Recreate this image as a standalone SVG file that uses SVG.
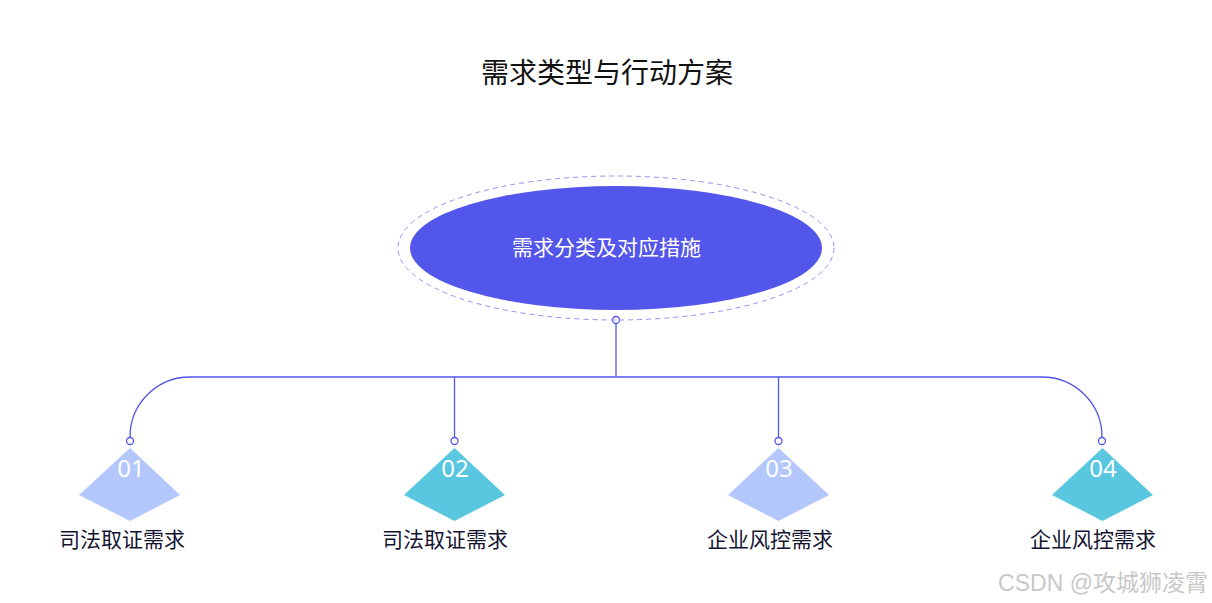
<svg xmlns="http://www.w3.org/2000/svg" width="1212" height="603" viewBox="0 0 1212 603">
<style>
.cn{font-family:"Noto Sans CJK SC","Noto Sans",sans-serif}
.title{font-size:28px;fill:#111111;text-anchor:middle}
.hub{font-size:21px;fill:#ffffff}
.lbl{font-size:21px;fill:#141432;text-anchor:middle}
.num{font-size:24px;fill:#ffffff;text-anchor:middle;font-family:"Noto Sans","Open Sans",sans-serif}
.wire{fill:none;stroke:#5356EA;stroke-width:1.3}
.dot{fill:#ffffff;stroke:#5356EA;stroke-width:1.3}
.light{fill:#B3C7FD}
.teal{fill:#58C7DF}
</style>
<rect width="1212" height="603" fill="#ffffff"/>
<text class="cn title" x="607" y="83">需求类型与行动方案</text>

<g id="connectors">
<line class="wire" x1="616" y1="323.5" x2="616" y2="377"/>
<path class="wire" d="M190 377 H1042"/>
<path class="wire" d="M190 377 A60 60 0 0 0 130 437"/>
<path class="wire" d="M1042 377 A60 60 0 0 1 1102 437"/>
<line class="wire" x1="454.5" y1="377" x2="454.5" y2="437"/>
<line class="wire" x1="778.5" y1="377" x2="778.5" y2="437"/>
<circle class="dot" cx="616" cy="320" r="3.5"/>
<circle class="dot" cx="130" cy="441" r="3.5"/>
<circle class="dot" cx="454.5" cy="441" r="3.5"/>
<circle class="dot" cx="778.5" cy="441" r="3.5"/>
<circle class="dot" cx="1102" cy="441" r="3.5"/>
</g>

<g id="hub">
<ellipse cx="616" cy="248" rx="218" ry="72" fill="none" stroke="#8f92f2" stroke-width="1" stroke-dasharray="5 4"/>
<ellipse cx="616" cy="248" rx="206" ry="62" fill="#5356EA"/>
<text class="cn hub" x="606.5" y="255" text-anchor="middle">需求分类及对应措施</text>
</g>

<g id="node1">
<polygon class="light" points="130,448 180,495 130,521 79,495"/>
<text class="num" x="131" y="477">01</text>
<text class="cn lbl" x="122" y="547">司法取证需求</text>
</g>
<g id="node2">
<polygon class="teal" points="454.5,448 505,495 454.5,521 404,495"/>
<text class="num" x="455" y="477">02</text>
<text class="cn lbl" x="445" y="547">司法取证需求</text>
</g>
<g id="node3">
<polygon class="light" points="778.5,448 829,495 778.5,521 728,495"/>
<text class="num" x="779" y="477">03</text>
<text class="cn lbl" x="770" y="547">企业风控需求</text>
</g>
<g id="node4">
<polygon class="teal" points="1102.5,448 1153,495 1102.5,521 1052,495"/>
<text class="num" x="1103" y="477">04</text>
<text class="cn lbl" x="1093" y="547">企业风控需求</text>
</g>

<text x="1208" y="591" text-anchor="end" font-size="23" fill="#c8c8c8" font-family="Liberation Sans,Noto Sans CJK SC,sans-serif">CSDN @攻城狮凌霄</text>
</svg>
